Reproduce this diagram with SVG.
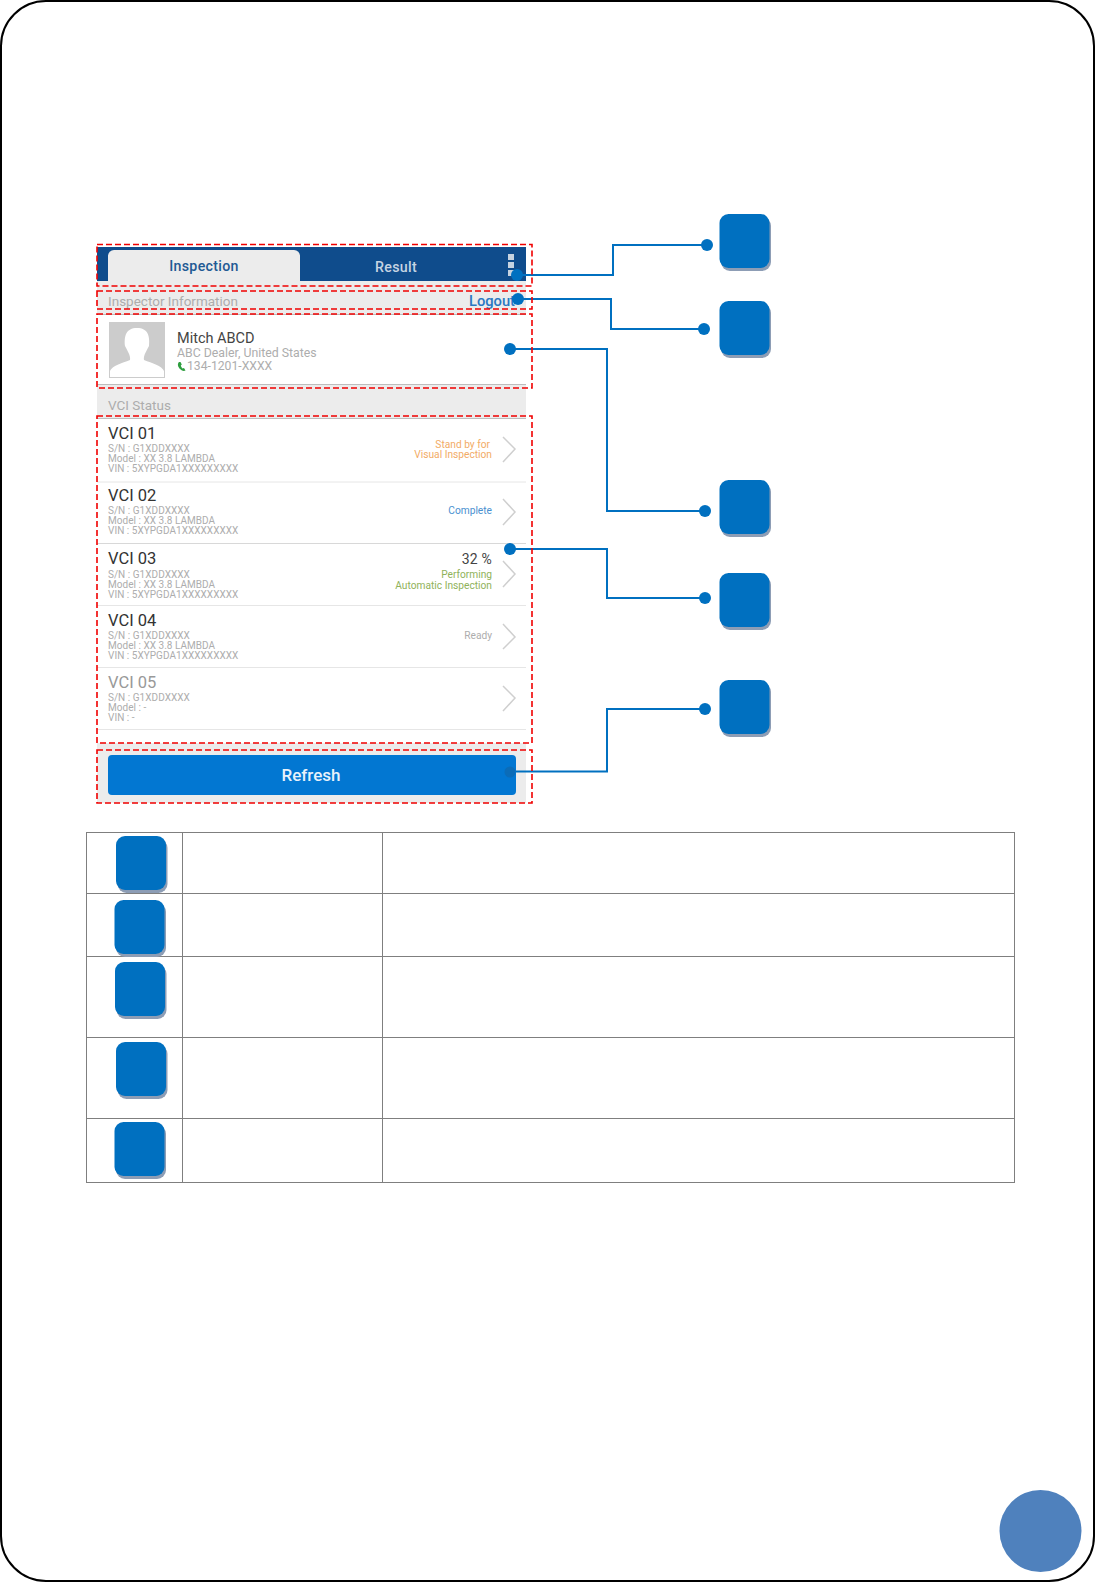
<svg xmlns="http://www.w3.org/2000/svg" width="1096" height="1583" viewBox="0 0 1096 1583">
<style>
text{font-family:Roboto,"Liberation Sans",sans-serif}
.sq{fill:#0070c0}
.sh{fill:#8d9db5}
.dash{fill:none;stroke:#f00000;stroke-width:1.600;stroke-dasharray:6 3}
.conn{fill:none;stroke:#0070c0;stroke-width:2}
.dot{fill:#0070c0}
.sep{stroke:#e6e6e6;stroke-width:1}
.gl{stroke:#bdbdbd;stroke-width:1}
.chev{fill:none;stroke:#cfcfcf;stroke-width:1.500}
.ttl{font-size:16.500px;fill:#333}
.sub{font-size:10px;fill:#adadad;letter-spacing:.03px}
.st{font-size:10.200px;text-anchor:end}
.cell{stroke:#7f7f7f;stroke-width:1;fill:none}
</style>
<defs>
<g id="badge"><rect class="sh" x="1.500" y="3" width="50" height="54" rx="9"/><rect class="sq" width="50" height="54" rx="9"/></g>
</defs>
<rect width="1096" height="1583" fill="#fff"/>
<rect id="frame" x="1" y="1" width="1093" height="1580" rx="45" fill="#fff" stroke="#000" stroke-width="2"/>
<g id="screen">
<rect x="97" y="281" width="429" height="522" fill="#ececec"/>
<rect x="97" y="247" width="429" height="34" fill="#0f4c8c"/>
<path d="M108 281V256a6 6 0 0 1 6-6H294a6 6 0 0 1 6 6V281Z" fill="#ececec"/>
<text x="204" y="271" font-size="14.200" font-weight="500" fill="#1f5a94" text-anchor="middle" letter-spacing=".3">Inspection</text>
<text x="396" y="272" font-size="14.200" font-weight="500" fill="#c6d4e3" text-anchor="middle" letter-spacing=".3">Result</text>
<g fill="#c6d3e1"><rect x="508" y="254" width="6" height="6"/><rect x="508" y="262" width="6" height="6"/><rect x="508" y="270" width="6" height="6"/></g>
<text x="108" y="306" font-size="13.500" fill="#adadad">Inspector Information</text>
<text x="515" y="306" font-size="14.700" font-weight="500" fill="#2a78c2" text-anchor="end">Logout</text>
<rect x="97" y="315" width="429" height="69" fill="#fff"/>
<line class="gl" x1="97" y1="314.500" x2="526" y2="314.500"/>
<line class="gl" x1="97" y1="384.500" x2="526" y2="384.500"/>
<rect x="109" y="322" width="56" height="56" fill="#cccccc"/>
<path d="M110 377V371C112 366 122 363 130 360C131 356 127 350 125 346C124 336 126 328 137 328C148 328 150 336 149 346C147 350 143 356 144 360C152 363 162 366 164 371V377Z" fill="#fff"/>
<text x="177" y="343" font-size="14.500" fill="#444">Mitch ABCD</text>
<text x="177" y="357" font-size="12.300" fill="#adadad">ABC Dealer, United States</text>
<path d="M179 362C177 364 178 367 180 369C182 371 184 371.500 185.500 370.500L184 368L182.500 368.500C181.500 367.500 181 366.500 180.800 365.500L181.800 364.500L180.500 362Z" fill="#2e9e3e"/>
<text x="187" y="370" font-size="12.200" fill="#adadad">134-1201-XXXX</text>
<text x="108" y="410" font-size="13.500" fill="#adadad">VCI Status</text>
<rect x="97" y="418" width="429" height="325" fill="#fff"/>
<line class="gl" x1="97" y1="418.500" x2="526" y2="418.500"/>
<line class="sep" x1="97" y1="482" x2="526" y2="482"/>
<line class="sep" x1="97" y1="543.500" x2="526" y2="543.500" style="stroke:#d8d8d8"/>
<line class="sep" x1="97" y1="605.500" x2="526" y2="605.500"/>
<line class="sep" x1="97" y1="667.500" x2="526" y2="667.500"/>
<line class="sep" x1="97" y1="729.500" x2="526" y2="729.500"/>
<g id="vci1"><text class="ttl" x="108" y="439">VCI 01</text><text class="sub" x="108" y="452">S/N : G1XDDXXXX</text><text class="sub" x="108" y="462">Model : XX 3.8 LAMBDA</text><text class="sub" x="108" y="472">VIN : 5XYPGDA1XXXXXXXXX</text>
<text class="st" x="490" y="448" fill="#f2ab66">Stand by for</text><text class="st" x="492" y="458" fill="#f2ab66">Visual Inspection</text><path class="chev" d="M503 437L515 449L503 462"/></g>
<g id="vci2"><text class="ttl" x="108" y="501">VCI 02</text><text class="sub" x="108" y="514">S/N : G1XDDXXXX</text><text class="sub" x="108" y="524">Model : XX 3.8 LAMBDA</text><text class="sub" x="108" y="534">VIN : 5XYPGDA1XXXXXXXXX</text>
<text class="st" x="492" y="514" fill="#4a90d0">Complete</text><path class="chev" d="M503 499L515 512L503 525"/></g>
<g id="vci3"><text class="ttl" x="108" y="564">VCI 03</text><text class="sub" x="108" y="578">S/N : G1XDDXXXX</text><text class="sub" x="108" y="588">Model : XX 3.8 LAMBDA</text><text class="sub" x="108" y="598">VIN : 5XYPGDA1XXXXXXXXX</text>
<text x="492" y="564" font-size="14" fill="#444" text-anchor="end" letter-spacing=".2">32 %</text><text class="st" x="492" y="578" fill="#8fb25a">Performing</text><text class="st" x="492" y="588.500" fill="#8fb25a">Automatic Inspection</text><path class="chev" d="M503 561L515 574L503 587"/></g>
<g id="vci4"><text class="ttl" x="108" y="626">VCI 04</text><text class="sub" x="108" y="639">S/N : G1XDDXXXX</text><text class="sub" x="108" y="649">Model : XX 3.8 LAMBDA</text><text class="sub" x="108" y="659">VIN : 5XYPGDA1XXXXXXXXX</text>
<text class="st" x="492" y="639" fill="#adadad">Ready</text><path class="chev" d="M503 624L515 637L503 649"/></g>
<g id="vci5"><text class="ttl" x="108" y="688" style="fill:#999">VCI 05</text><text class="sub" x="108" y="701">S/N : G1XDDXXXX</text><text class="sub" x="108" y="711">Model : -</text><text class="sub" x="108" y="721">VIN : -</text>
<path class="chev" d="M503 686L515 698L503 711"/></g>
</g>
<g id="connectors">
<path class="conn" d="M517 275H613V245H707"/>
<path class="conn" d="M518 299H611V329H704"/>
<path class="conn" d="M510 349H607V511H705"/>
<path class="conn" d="M510 549H607V598H705"/>
<path class="conn" d="M510 771.500H607V709H705"/>
<g class="dot"><circle cx="517" cy="275" r="6"/><circle cx="518" cy="299" r="6"/><circle cx="510" cy="349" r="6"/><circle cx="510" cy="549" r="6"/><circle cx="707" cy="245" r="6"/><circle cx="704" cy="329" r="6"/><circle cx="705" cy="511" r="6"/><circle cx="705" cy="598" r="6"/><circle cx="705" cy="709" r="6"/></g>
</g>
<g id="refresh">
<rect x="108" y="755" width="408" height="40" rx="4" fill="#0277d2"/>
<circle cx="510" cy="772" r="5.500" fill="#0b6cb8"/>
<text x="311" y="781" font-size="17" font-weight="500" fill="#e8f2fb" text-anchor="middle">Refresh</text>
</g>
<g id="highlights">
<rect class="dash" x="97" y="244.500" width="435" height="41.500"/>
<rect class="dash" x="97" y="291" width="435" height="18"/>
<rect class="dash" x="97" y="314" width="435" height="74"/>
<rect class="dash" x="97" y="416" width="435" height="327"/>
<rect class="dash" x="97" y="750" width="435" height="53"/>
</g>
<g id="badges">
<use id="n1" href="#badge" x="719.500" y="214"/>
<use id="n2" href="#badge" x="719.500" y="301"/>
<use id="n3" href="#badge" x="719.500" y="480"/>
<use id="n4" href="#badge" x="719.500" y="573"/>
<use id="n5" href="#badge" x="719.500" y="680"/>
</g>
<g id="table">
<rect class="cell" x="86.500" y="832.500" width="928" height="350"/>
<path class="cell" d="M182.500 832.500V1182.500M382.500 832.500V1182.500M86.500 893.500H1014.500M86.500 956.500H1014.500M86.500 1037.500H1014.500M86.500 1118.500H1014.500"/>
<use id="t1" href="#badge" x="116" y="836"/>
<use id="t2" href="#badge" x="114.500" y="900"/>
<use id="t3" href="#badge" x="115" y="962"/>
<use id="t4" href="#badge" x="116" y="1042"/>
<use id="t5" href="#badge" x="114.500" y="1122"/>
</g>
<circle id="page" cx="1040.500" cy="1531" r="41" fill="#4f81bd"/>
</svg>
